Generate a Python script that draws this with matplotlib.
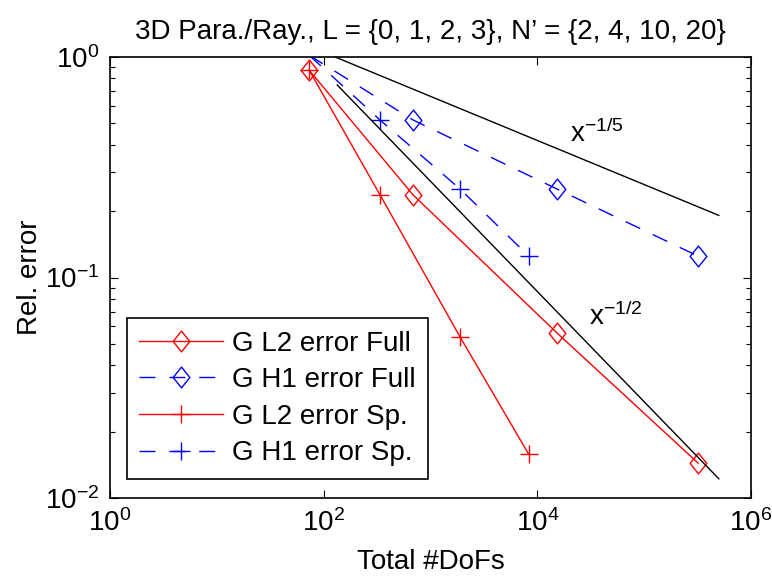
import matplotlib
matplotlib.use("Agg")
import matplotlib.pyplot as plt
from matplotlib.path import Path
from matplotlib.ticker import LogLocator, NullLocator, NullFormatter
import numpy as np

plt.rcParams["font.family"] = ["Liberation Sans", "DejaVu Sans"]
plt.rcParams["mathtext.fontset"] = "custom"
plt.rcParams["mathtext.rm"] = "Liberation Sans"
plt.rcParams["mathtext.it"] = "Liberation Sans"
plt.rcParams["mathtext.default"] = "regular"

# data
dofs_full = [73, 687, 15300, 320000]
dofs_sp = [73, 337, 1893, 8300]
l2_full = [0.873, 0.237, 0.056, 0.0144]
h1_full = [1.02, 0.518, 0.252, 0.125]
l2_sp = [0.873, 0.237, 0.0537, 0.0158]
h1_sp = [1.02, 0.518, 0.252, 0.125]

ref15_x = [128, 5.0e5]
ref12_x = [134, 5.0e5]
ref_c15 = 2.64   # x^-1/5
ref_c12 = 8.64   # x^-1/2

FS = 20
TFS = 20

# MATLAB-like diamond (a bit taller than wide)
diamond = Path([(0, 1), (0.8, 0), (0, -1), (-0.8, 0), (0, 1)],
               [Path.MOVETO, Path.LINETO, Path.LINETO, Path.LINETO, Path.CLOSEPOLY])

fig = plt.figure(figsize=(7.72, 5.76), dpi=100)
ax = fig.add_axes([0.1425, 0.1354, 0.8303, 0.7656])

lw = 1.0
dash = (11.5, 10)
ax.plot(dofs_full, l2_full, "-", color="red", lw=lw, marker=diamond, ms=15,
        mfc="none", mec="red", mew=1.0, label="G L2 error Full")
# first blue point sits just above the top edge, its marker is not drawn
ax.plot(dofs_full, h1_full, "--", color="blue", lw=lw, dashes=dash, marker=diamond, ms=15,
        mfc="none", mec="blue", mew=1.0, markevery=[1, 2, 3], label="G H1 error Full")
ax.plot(dofs_sp, l2_sp, "-", color="red", lw=lw, marker="+", ms=13,
        mec="red", mew=1.0, label="G L2 error Sp.")
ax.plot(dofs_sp, h1_sp, "--", color="blue", lw=lw, dashes=dash, marker="+", ms=13,
        mec="blue", mew=1.0, markevery=[1, 2, 3], label="G H1 error Sp.")

rx = np.array(ref15_x, dtype=float)
ax.plot(rx, ref_c15 * rx ** (-1 / 5), "-", color="black", lw=lw)
rx = np.array(ref12_x, dtype=float)
ax.plot(rx, ref_c12 * rx ** (-1 / 2), "-", color="black", lw=lw)

ax.text(20300, 0.412, r"x$^{-1/5}$", fontsize=FS, va="baseline", ha="left")
ax.text(30500, 0.061, r"x$^{-1/2}$", fontsize=FS, va="baseline", ha="left")

ax.set_xscale("log")
ax.set_yscale("log")
ax.set_xlim(1, 1e6)
ax.set_ylim(1e-2, 1)
ax.set_xticks([1, 1e2, 1e4, 1e6])
ax.xaxis.set_minor_locator(NullLocator())
ax.yaxis.set_major_locator(LogLocator(base=10, numticks=10))
ax.yaxis.set_minor_locator(LogLocator(base=10, subs=np.arange(2, 10), numticks=10))
ax.yaxis.set_minor_formatter(NullFormatter())

ax.tick_params(which="both", direction="in", top=True, right=True, labelsize=TFS)
ax.tick_params(which="major", length=6, width=0.8, pad=8)
ax.tick_params(which="minor", length=3.5, width=0.8)
for s in ax.spines.values():
    s.set_linewidth(1.2)

ax.set_xlabel("Total #DoFs", fontsize=FS, labelpad=9)
ax.set_ylabel("Rel. error", fontsize=FS, labelpad=1)
ax.set_title("3D Para./Ray., L = {0, 1, 2, 3}, N\u2019 = {2, 4, 10, 20}", fontsize=FS, pad=13)

leg = ax.legend(loc="upper left", bbox_to_anchor=(0.026, 0.408), borderaxespad=0,
                fontsize=FS, handlelength=3.0, fancybox=False, framealpha=1,
                edgecolor="black", labelspacing=0.38, handletextpad=0.35,
                borderpad=0.45)
leg.get_frame().set_linewidth(1.2)

fig.savefig("out.png", dpi=100)
